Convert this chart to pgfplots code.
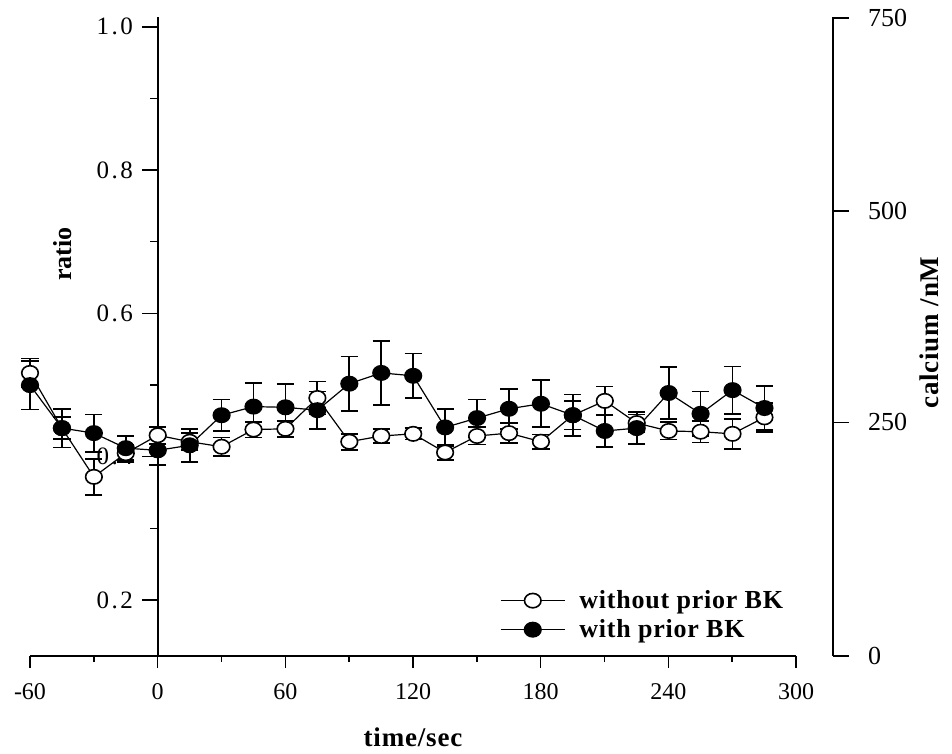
\documentclass[border=0pt]{standalone}
\usepackage{fontspec}
\setmainfont{Liberation Serif}
\newfontfamily\tickfont[LetterSpace=10]{Liberation Serif}
\newfontfamily\spacedfont[LetterSpace=3]{Liberation Serif}
\usepackage{pgfplots}
\usepackage{pgfplotstable}
\pgfplotsset{compat=1.18}

\pgfplotstableread{
t    y      e
-60  0.517  0.020
-45  0.440  0.015
-30  0.372  0.025
-15  0.405  0.012
0    0.430  0.012
15   0.421  0.012
30   0.414  0.013
45   0.438  0.011
60   0.439  0.011
75   0.482  0.023
90   0.421  0.011
105  0.429  0.010
120  0.432  0.008
135  0.406  0.010
150  0.429  0.012
165  0.433  0.014
180  0.421  0.010
195  0.458  0.020
210  0.478  0.020
225  0.447  0.012
240  0.436  0.012
255  0.435  0.015
270  0.432  0.021
285  0.455  0.020
}\without

\pgfplotstableread{
t    y      e
-60  0.500  0.034
-45  0.440  0.027
-30  0.433  0.026
-15  0.412  0.017
0    0.409  0.020
15   0.416  0.023
30   0.458  0.022
45   0.470  0.033
60   0.469  0.033
75   0.465  0.026
90   0.502  0.038
105  0.517  0.045
120  0.513  0.031
135  0.441  0.026
150  0.454  0.026
165  0.467  0.028
180  0.474  0.033
195  0.458  0.029
210  0.436  0.022
225  0.440  0.022
240  0.489  0.036
255  0.460  0.031
270  0.493  0.033
285  0.468  0.031
}\withbk

\begin{document}
\begin{tikzpicture}
\pgfplotsset{
  every axis/.append style={scale only axis, height=319.5pt, ymin=0.122, ymax=1.0137,
    tick style={line width=0.7pt, black}, axis line style={line width=0.8pt},
    /pgf/number format/assume math mode=true,
    font=\fontsize{12}{14}\selectfont,
    tick align=outside, clip=false},
}
\path[use as bounding box] (-15pt,-49pt) rectangle (461pt,328pt);

% left ratio axis at t = 0
\begin{axis}[at={(64pt,0pt)}, anchor=south west, width=337.5pt, xmin=0, xmax=317.2,
  axis y line*=left, axis x line=none,
  ytick={0.2,0.4,0.6,0.8,1.0}, minor ytick={0.3,0.5,0.7,0.9},
  major tick length=8pt, minor tick length=4pt,
  yticklabel style={font=\tickfont\fontsize{12.5}{14}\selectfont, xshift=-1pt,
    /pgf/number format/fixed, /pgf/number format/fixed zerofill,
    /pgf/number format/precision=1},
  ylabel={\bfseries\fontsize{13}{15}\selectfont ratio},
  ylabel style={at={(axis description cs:-0.1407,0.629)}, anchor=center}]
\end{axis}

% bottom time axis
\begin{axis}[at={(0pt,0pt)}, anchor=south west, width=383pt, xmin=-60, xmax=300,
  axis x line*=bottom, axis y line=none,
  xtick={-60,0,...,300}, minor xtick={-30,30,...,270},
  major tick length=6pt, minor tick length=3pt,
  xticklabel style={font=\fontsize{12}{14}\selectfont, yshift=-4pt},
  xlabel={\spacedfont\bfseries\fontsize{13.5}{15}\selectfont time/sec},
  xlabel style={at={(axis description cs:0.5,-0.127)}, anchor=center}]
\end{axis}

% calcium axis and data
\begin{axis}[at={(0pt,0pt)}, anchor=south west, width=401.5pt, xmin=-60, xmax=317.2,
  axis y line*=right, axis x line=none,
  ytick={0.122,0.448,0.743,1.0123}, yticklabels={0,250,500,750},
  major tick length=8pt,
  yticklabel style={font=\fontsize{13}{15}\selectfont, xshift=6pt},
  ylabel={\spacedfont\bfseries\fontsize{13.5}{16}\selectfont calcium /nM},
  ylabel style={at={(axis description cs:1.12,0.506)}, anchor=center},
  legend style={at={(axis description cs:0.585,0.11)}, anchor=north west,
    draw=none, fill=none, inner sep=0pt, row sep=0pt,
    font=\spacedfont\bfseries\fontsize{13}{15}\selectfont},
  legend cell align=left,
  legend image code/.code={\draw[mark repeat=2,mark phase=2,#1]
     plot coordinates {(0pt,0pt) (16pt,0pt) (32pt,0pt)};
     \path (37pt,0pt);}]

\addplot[black, line width=0.6pt, mark=*, mark size=3.6pt,
  mark options={fill=white, line width=0.8pt, xscale=1.15},
  error bars/.cd, y dir=both, y explicit,
  error bar style={line width=0.9pt},
  error mark options={rotate=90, mark size=4.3pt, line width=0.9pt}]
  table[x=t, y=y, y error=e] {\without};
\addlegendentry{without prior BK}

\addplot[black, line width=0.6pt, mark=*, mark size=3.6pt,
  mark options={fill=black, line width=0.8pt, xscale=1.15},
  error bars/.cd, y dir=both, y explicit,
  error bar style={line width=0.9pt},
  error mark options={rotate=90, mark size=4.3pt, line width=0.9pt}]
  table[x=t, y=y, y error=e] {\withbk};
\addlegendentry{with prior BK}
\end{axis}
\end{tikzpicture}
\end{document}
